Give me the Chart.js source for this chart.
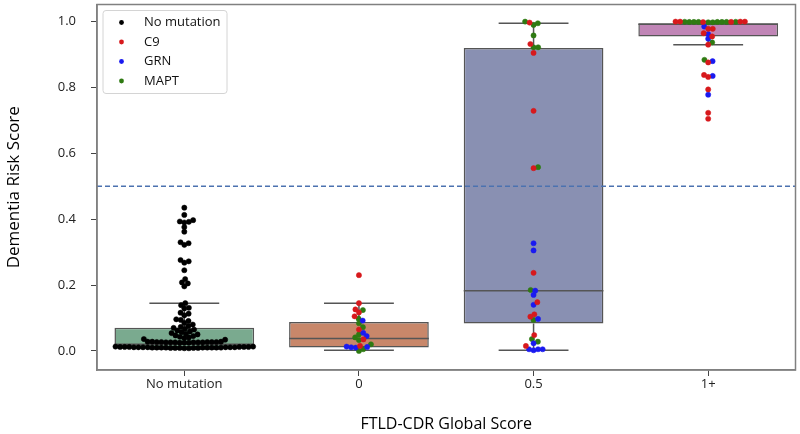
<!DOCTYPE html>
<html>
<head>
<meta charset="utf-8">
<script src="https://cdn.jsdelivr.net/npm/chart.js@4.4.0/dist/chart.umd.min.js"></script>
<style>
html, body { margin: 0; padding: 0; background: #fff; }
#wrap { width: 800px; height: 434px; }
</style>
</head>
<body>
<div id="wrap"><canvas id="chart"></canvas></div>
<script>
const categories = ['No mutation', '0', '0.5', '1+'];
const yTicks = [0.0, 0.2, 0.4, 0.6, 0.8, 1.0];

// box plot stats, one entry per category
const whiskerLow  = [0.005, 0.002, 0.002, 0.930];
const q1          = [0.010, 0.010, 0.083, 0.955];
const median      = [0.020, 0.038, 0.183, 0.992];
const q3          = [0.070, 0.088, 0.920, 0.995];
const whiskerHigh = [0.145, 0.145, 0.995, 1.000];
const boxColors = ['#7aaa8f', '#c8876a', '#8990b2', '#c085b6'];

// swarm values
const noMutation = [
  0.008, 0.009, 0.009, 0.010, 0.010, 0.010, 0.010, 0.011, 0.011, 0.011, 0.011,
  0.012, 0.012, 0.012, 0.009, 0.010, 0.011, 0.010, 0.012, 0.013, 0.008, 0.009,
  0.010, 0.011, 0.012, 0.013, 0.010, 0.011, 0.009, 0.010, 0.012,
  0.026, 0.027, 0.025, 0.026, 0.027, 0.028, 0.026, 0.025, 0.027, 0.026, 0.028,
  0.027, 0.026, 0.025, 0.027, 0.026, 0.028,
  0.034, 0.036, 0.039, 0.041, 0.043, 0.045, 0.047, 0.050, 0.052, 0.054,
  0.057, 0.059, 0.062, 0.065, 0.067, 0.070, 0.073, 0.076, 0.080,
  0.085, 0.091, 0.094, 0.096, 0.108, 0.113, 0.116, 0.129, 0.131, 0.139, 0.145,
  0.196, 0.205, 0.208, 0.218, 0.245, 0.268, 0.272, 0.276, 0.322, 0.327, 0.330,
  0.362, 0.376, 0.390, 0.392, 0.393, 0.397, 0.413, 0.435
];

const c9_0   = [0.230, 0.145, 0.126, 0.117, 0.105, 0.065, 0.035, 0.015];
const grn_0  = [0.092, 0.055, 0.045, 0.012, 0.011, 0.010, 0.013];
const mapt_0 = [0.124, 0.098, 0.084, 0.072, 0.050, 0.041, 0.033, 0.020, 0.005, 0.000];

const c9_05   = [0.997, 0.932, 0.905, 0.729, 0.555, 0.237, 0.148, 0.111, 0.104, 0.048, 0.015];
const grn_05  = [0.327, 0.305, 0.183, 0.170, 0.140, 0.097, 0.023, 0.005, 0.005, 0.005, 0.002];
const mapt_05 = [0.995, 1.000, 0.990, 0.958, 0.922, 0.922, 0.558, 0.185, 0.094, 0.036, 0.028];

const c9_1   = [1.000, 1.000, 1.000, 1.000, 0.9992, 0.9985, 0.978, 0.978, 0.965, 0.955,
                0.930, 0.876, 0.838, 0.832, 0.794, 0.723, 0.705];
const grn_1  = [0.985, 0.962, 0.948, 0.880, 0.835, 0.778];
const mapt_1 = [0.999, 0.999, 0.999, 0.999, 0.999, 0.999, 0.9995, 0.9995, 0.998, 0.998,
                0.937, 0.884];

const groupLabels = ['No mutation', 'C9', 'GRN', 'MAPT'];
const groupColors = ['#000000', '#d7191c', '#1a1af0', '#2f7a12'];

const byCategory = [
  [noMutation, [], [], []],
  [[], c9_0, grn_0, mapt_0],
  [[], c9_05, grn_05, mapt_05],
  [[], c9_1, grn_1, mapt_1]
];

// beeswarm layout (pixel units approximated from the axis ranges)
const PX_X = 175, PX_Y = 330, DOT = 4.6;
function swarm(points) {
  const sorted = points.slice().sort((a, b) => a.y - b.y);
  const placed = [];
  sorted.forEach(p => {
    const py = p.y * PX_Y;
    const near = placed.filter(q => Math.abs(q.py - py) < DOT);
    const cands = [0];
    near.forEach(q => {
      const dx = Math.sqrt(DOT * DOT - (q.py - py) * (q.py - py));
      cands.push(q.px + dx, q.px - dx);
    });
    cands.sort((a, b) => Math.abs(a) - Math.abs(b));
    const px = cands.find(c => near.every(q => (q.px - c) ** 2 + (q.py - py) ** 2 >= DOT * DOT - 0.01));
    placed.push({ g: p.g, y: p.y, px: px, py: py });
  });
  return placed;
}

const groupData = [[], [], [], []];
byCategory.forEach((groups, i) => {
  const pts = [];
  groups.forEach((vals, g) => vals.forEach(v => pts.push({ g: g, y: v })));
  swarm(pts).forEach(p => groupData[p.g].push({ x: i + p.px / PX_X, y: p.y }));
});

// whiskers, caps and medians as one broken line
const boxLines = [];
categories.forEach((c, i) => {
  boxLines.push({ x: i, y: whiskerLow[i] }, { x: i, y: q1[i] }, { x: i, y: null });
  boxLines.push({ x: i, y: q3[i] }, { x: i, y: whiskerHigh[i] }, { x: i, y: null });
  boxLines.push({ x: i - 0.2, y: whiskerLow[i] }, { x: i + 0.2, y: whiskerLow[i] }, { x: i, y: null });
  boxLines.push({ x: i - 0.2, y: whiskerHigh[i] }, { x: i + 0.2, y: whiskerHigh[i] }, { x: i, y: null });
  boxLines.push({ x: i - 0.4, y: median[i] }, { x: i + 0.4, y: median[i] }, { x: i, y: null });
});

const datasets = [];
groupLabels.forEach((label, g) => {
  datasets.push({
    type: 'scatter',
    label: label,
    data: groupData[g],
    backgroundColor: groupColors[g],
    borderColor: groupColors[g],
    borderWidth: 0.5,
    pointRadius: 2.6,
    order: 0
  });
});
datasets.push({
  type: 'line',
  data: [{ x: -0.5, y: 0.5 }, { x: 3.5, y: 0.5 }],
  borderColor: '#4c72b0',
  borderWidth: 1.3,
  borderDash: [5, 3],
  pointRadius: 0,
  order: 1
});
datasets.push({
  type: 'line',
  data: boxLines,
  borderColor: '#555555',
  borderWidth: 1.5,
  pointRadius: 0,
  spanGaps: false,
  order: 2
});
datasets.push({
  type: 'bar',
  data: categories.map((c, i) => ({ x: i, y: [q1[i], q3[i]] })),
  backgroundColor: boxColors,
  borderColor: '#555555',
  borderWidth: 1.5,
  borderSkipped: false,
  barPercentage: 1.0,
  categoryPercentage: 0.8,
  order: 3
});

const framePlugin = {
  id: 'frame',
  afterDraw(chart) {
    const a = chart.chartArea, ctx = chart.ctx;
    ctx.save();
    ctx.strokeStyle = '#808080';
    ctx.lineWidth = 1.5;
    ctx.strokeRect(a.left, a.top, a.right - a.left, a.bottom - a.top);

    // legend in the upper left corner
    const x0 = a.left + 6, y0 = a.top + 6, w = 124, h = 83;
    ctx.beginPath();
    ctx.roundRect(x0, y0, w, h, 3);
    ctx.fillStyle = 'rgba(255,255,255,0.85)';
    ctx.fill();
    ctx.strokeStyle = '#d4d4d4';
    ctx.lineWidth = 1;
    ctx.stroke();
    ctx.font = '13px "Open Sans"';
    ctx.textBaseline = 'middle';
    groupLabels.forEach((label, k) => {
      const cy = y0 + 12 + k * 19.5;
      ctx.beginPath();
      ctx.arc(x0 + 18.5, cy, 2.4, 0, Math.PI * 2);
      ctx.fillStyle = groupColors[k];
      ctx.fill();
      ctx.fillStyle = '#111';
      ctx.fillText(label, x0 + 41, cy);
    });
    ctx.restore();
  }
};

new Chart(document.getElementById('chart'), {
  data: { datasets: datasets },
  options: {
    responsive: true,
    maintainAspectRatio: false,
    animation: false,
    layout: { padding: { top: 4, right: 4, left: 0, bottom: 0 } },
    plugins: { legend: { display: false }, tooltip: { enabled: false } },
    scales: {
      x: {
        type: 'linear',
        min: -0.5,
        max: 3.5,
        offset: false,
        afterBuildTicks: ax => { ax.ticks = categories.map((c, i) => ({ value: i })); },
        afterFit: s => { s.height = 64; s.paddingLeft = 0; s.paddingRight = 0; },
        ticks: {
          callback: (v, i) => categories[i],
          color: '#222',
          padding: 0,
          font: { family: 'Open Sans', size: 13 }
        },
        grid: { drawOnChartArea: false, offset: false, tickLength: 6, color: '#444' },
        border: { color: '#808080', width: 1.5 },
        title: {
          display: true,
          text: 'FTLD-CDR Global Score',
          color: '#000',
          padding: { top: 0, bottom: 0 },
          font: { family: 'Open Sans', size: 16 }
        }
      },
      y: {
        type: 'linear',
        min: -0.058,
        max: 1.052,
        afterBuildTicks: ax => { ax.ticks = yTicks.map(v => ({ value: v })); },
        afterFit: s => { s.width = 97; s.paddingTop = 0; s.paddingBottom = 0; },
        ticks: {
          callback: v => v.toFixed(1),
          color: '#222',
          padding: 15,
          font: { family: 'Open Sans', size: 13 }
        },
        grid: { drawOnChartArea: false, tickLength: 6, color: '#444' },
        border: { color: '#808080', width: 1.5 },
        title: {
          display: true,
          text: 'Dementia Risk Score',
          color: '#000',
          padding: { top: 4, bottom: 0 },
          font: { family: 'Open Sans', size: 17 }
        }
      }
    }
  },
  plugins: [framePlugin]
});
</script>
</body>
</html>
